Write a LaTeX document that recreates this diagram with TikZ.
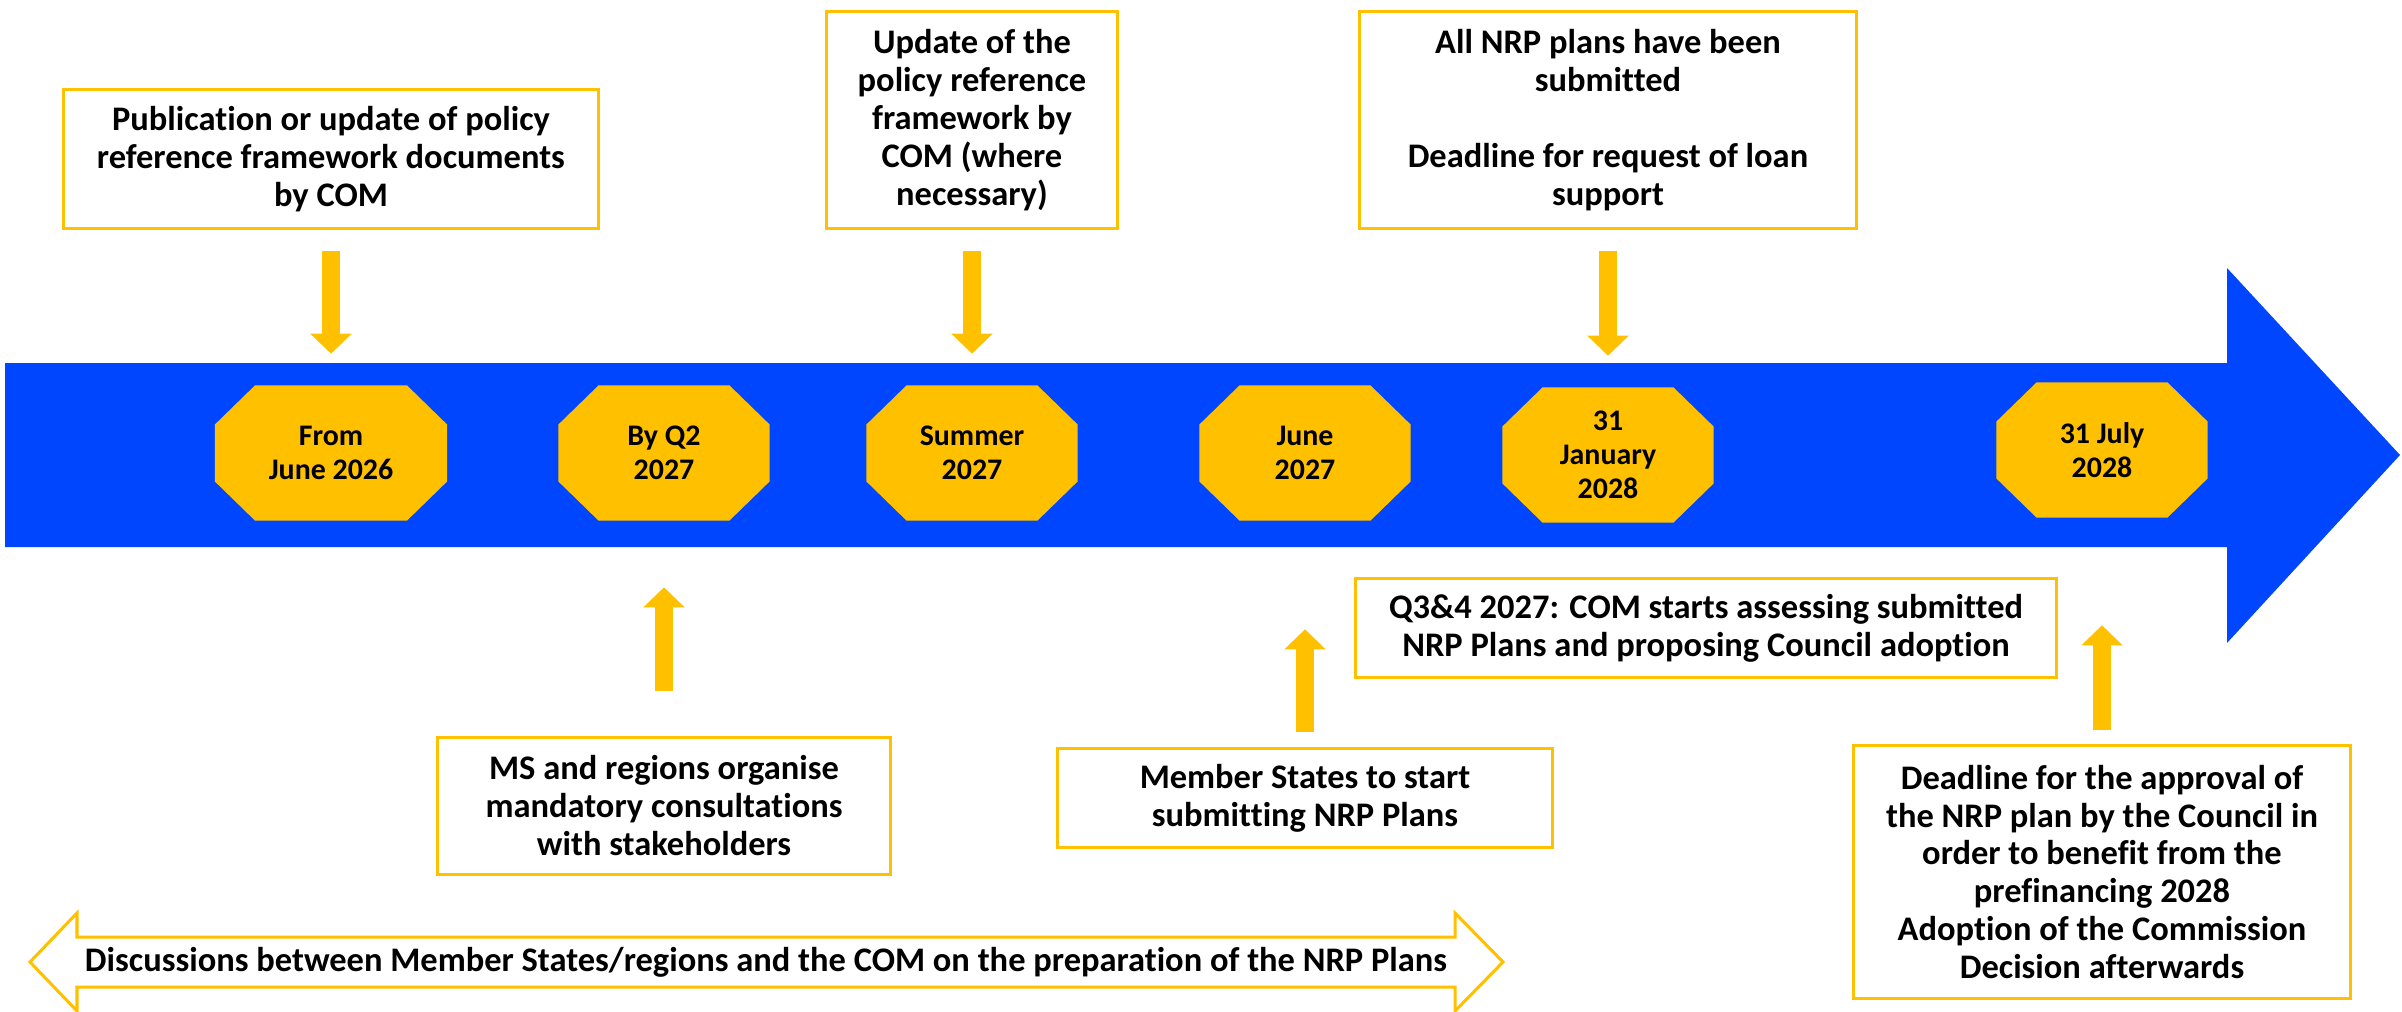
\documentclass[tikz,border=0pt]{standalone}
\usepackage{fontspec}
\setmainfont{Carlito}[Ligatures=NoCommon]
\usepackage{tikz}
\usetikzlibrary{positioning, arrows.meta}
\definecolor{tlblue}{HTML}{0046FF}
\definecolor{tlgold}{HTML}{FFC000}

\begin{document}
\begin{tikzpicture}[x=0.01cm, y=-0.01cm,
  octa/.style={fill=tlblue, minimum width=2.11cm, minimum height=1.35cm, inner sep=0pt, align=center,
    font=\bfseries\fontsize{8.5}{9.7}\selectfont,
    path picture={\fill[tlgold] ([xshift=0.4cm]path picture bounding box.north west)
      -- ([xshift=-0.4cm]path picture bounding box.north east)
      -- ([yshift=-0.39cm]path picture bounding box.north east)
      -- ([yshift=0.39cm]path picture bounding box.south east)
      -- ([xshift=-0.4cm]path picture bounding box.south east)
      -- ([xshift=0.4cm]path picture bounding box.south west)
      -- ([yshift=0.39cm]path picture bounding box.south west)
      -- ([yshift=-0.39cm]path picture bounding box.north west) -- cycle;}},
  tlbox/.style={draw=tlgold, line width=0.03cm, fill=white, align=center, inner sep=0pt,
    font=\bfseries\fontsize{9.8}{10.8}\selectfont},
  tlarrow/.style={tlgold, line width=0.18cm, -{Triangle[width=0.4cm,length=0.2cm]}}]
\useasboundingbox (0,0) rectangle (2402,1012);

% timeline
\fill[tlblue] (5,363) -- (2227,363) -- (2227,268) -- (2400,455) -- (2227,643) -- (2227,547) -- (5,547) -- cycle;

\foreach \nm/\x/\y/\w/\txt in {fromJune/331/453/2.32cm/{From\\June 2026}, byQ/664/453/2.11cm/{By Q2\\2027},
  summer/972/453/2.11cm/{Summer\\2027}, juneSev/1305/453/2.11cm/{June\\2027},
  janEight/1608/455/2.11cm/{31\\January\\2028}, julyEight/2102/450/2.11cm/{31 July\\2028}}
  \node[octa, minimum width=\w] (\nm) at (\x,\y) {\txt};

% boxes above
\node[tlbox, minimum width=5.34cm, minimum height=1.38cm] (pubBox) at (331,159) {Publication or update of policy\\reference framework documents\\by COM};
\node[tlbox, minimum width=2.91cm, minimum height=2.16cm] (updBox) at (972,120) {Update of the\\policy reference\\framework by\\COM (where\\necessary)};
\node[tlbox, minimum width=4.96cm, minimum height=2.16cm] (allBox) at (1608,120) {All NRP plans have been\\submitted\\[10.8pt]Deadline for request of loan\\support};

% boxes below
\node[tlbox, minimum width=4.52cm, minimum height=1.37cm] (msBox) at (664,806) {MS and regions organise\\mandatory consultations\\with stakeholders};
\node[tlbox, minimum width=4.95cm, minimum height=0.98cm] (memBox) at (1305,798) {Member States to start\\submitting NRP Plans};
\node[tlbox, minimum width=7.00cm, minimum height=0.99cm] (q34Box) at (1706,628) {Q3\&4 2027: COM starts assessing submitted\\NRP Plans and proposing Council adoption};
\node[tlbox, minimum width=4.97cm, minimum height=2.53cm] (deadBox) at (2102,872) {Deadline for the approval of\\the NRP plan by the Council in\\order to benefit from the\\prefinancing 2028\\Adoption of the Commission\\Decision afterwards};

\draw[tlarrow, shorten <=0.21cm, shorten >=0.31cm] (pubBox) -- (fromJune);
\draw[tlarrow, shorten <=0.21cm, shorten >=0.31cm] (updBox) -- (summer);
\draw[tlarrow, shorten <=0.21cm, shorten >=0.31cm] (allBox) -- (janEight);
\draw[tlarrow, shorten <=0.45cm, shorten >=0.66cm] (msBox) -- (byQ);
\draw[tlarrow, shorten <=0.15cm, shorten >=1.08cm] (memBox) -- (juneSev);
\draw[tlarrow, shorten <=0.14cm, shorten >=1.07cm] (deadBox) -- (julyEight);

% discussions
\draw[tlgold, line width=0.03cm, fill=white] (30,962) -- (77,913) -- (77,937) -- (1455,937) -- (1455,913) -- (1503,962)
  -- (1455,1011) -- (1455,987) -- (77,987) -- (77,1011) -- cycle;
\node[font=\bfseries\fontsize{9.8}{10.8}\selectfont, inner sep=0pt] (discuss) at (766,962) {Discussions between Member States/regions and the COM on the preparation of the NRP Plans};
\end{tikzpicture}
\end{document}
